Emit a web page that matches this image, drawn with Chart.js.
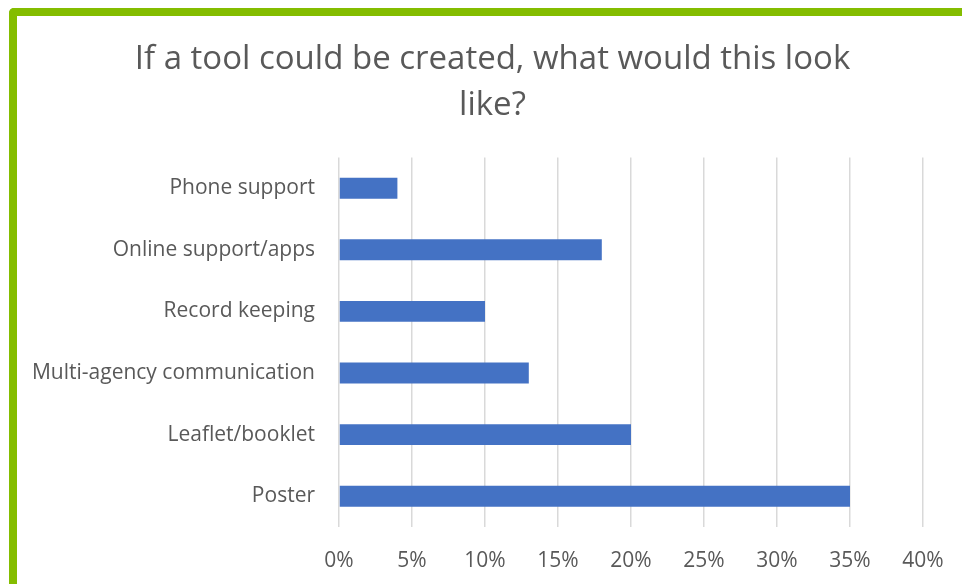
<!DOCTYPE html>
<html>
<head>
<meta charset="utf-8">
<script src="https://cdn.jsdelivr.net/npm/chart.js@4.4.1/dist/chart.umd.min.js"></script>
<style>
    html, body { margin: 0; padding: 0; background: #fff; overflow: hidden; }
    .wrap { position: relative; width: 962px; height: 584px; overflow: hidden; }
    .frame {
        position: absolute; left: 9px; top: 8px; width: 1100px; height: 700px;
        border-left: 8px solid #84bd00; border-top: 8px solid #84bd00;
        border-top-left-radius: 5px; box-sizing: border-box; pointer-events: none;
    }
    canvas { position: absolute; left: 0; top: 0; }
</style>
</head>
<body>
<div class="wrap">
    <canvas id="toolChart" width="1049" height="584" style="width:1049px;height:584px"></canvas>
    <div class="frame"></div>
</div>
<script>
const categories = ["Phone support", "Online support/apps", "Record keeping", "Multi-agency communication", "Leaflet/booklet", "Poster"];
const shares = [0.04, 0.18, 0.10, 0.13, 0.20, 0.35];
const titleLines = ["If a tool could be created, what would this look", "like?"];
const gray = "#595959";
const font = "'Open Sans', 'Noto Sans', sans-serif";

// the title is centred on the whole box, which is wider than the plot, so nudge its left edge in
const titleShift = {
    id: "titleShift",
    afterLayout(chart) {
        if (chart.titleBlock) chart.titleBlock.left = 62;
    },
};

const chart = new Chart(document.querySelector("#toolChart").getContext("2d"), {
    type: "bar",
    data: {
        labels: categories,
        datasets: [{
            data: shares,
            backgroundColor: "#4472c4",
            borderWidth: 0,
            barPercentage: 0.34,
            categoryPercentage: 1,
        }],
    },
    options: {
        indexAxis: "y",
        responsive: false,
        animation: false,
        layout: { padding: { left: 0, right: 126, top: 0, bottom: 0 } },
        plugins: {
            legend: { display: false },
            tooltip: { enabled: false },
            title: {
                display: true,
                text: titleLines,
                color: gray,
                font: { family: font, size: 33, weight: "normal", lineHeight: 1.4 },
                padding: { top: 36, bottom: 29 },
            },
        },
        scales: {
            x: {
                min: 0,
                max: 0.4,
                ticks: {
                    stepSize: 0.05,
                    color: gray,
                    padding: 21,
                    font: { family: font, size: 21 },
                    callback: (v) => Math.round(v * 100) + "%",
                },
                grid: { color: "#d9d9d9", lineWidth: 1.5, drawTicks: false },
                border: { display: false },
                afterFit: (scale) => { scale.height = 57; },
            },
            y: {
                ticks: {
                    color: gray,
                    padding: 16,
                    font: { family: font, size: 21 },
                },
                grid: { display: false },
                border: { display: false },
                afterFit: (scale) => { scale.width = 339; },
            },
        },
    },
    plugins: [titleShift],
});
</script>
</body>
</html>
